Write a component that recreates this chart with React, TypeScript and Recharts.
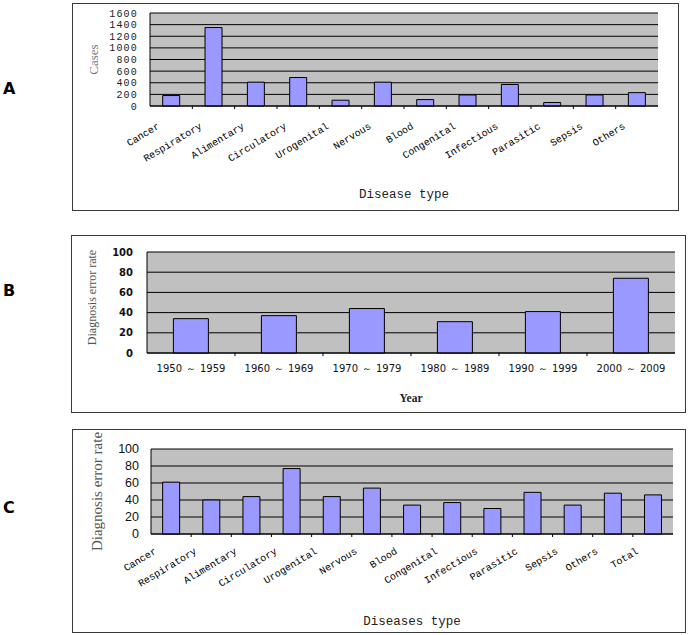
import { BarChart, Bar, XAxis, YAxis, CartesianGrid, Label } from 'recharts';

// ---------------------------------------------------------------------------
// Data
// ---------------------------------------------------------------------------
const CASE_TYPES = [
  'Cancer', 'Respiratory', 'Alimentary', 'Circulatory', 'Urogenital', 'Nervous',
  'Blood', 'Congenital', 'Infectious', 'Parasitic', 'Sepsis', 'Others',
];
const CASE_COUNTS = [180, 1350, 410, 490, 100, 410, 110, 190, 370, 60, 190, 230];
const CASE_TICKS = [0, 200, 400, 600, 800, 1000, 1200, 1400, 1600];

const DECADES = ['1950～1959', '1960～1969', '1970～1979', '1980～1989', '1990～1999', '2000～2009'];
const DECADE_RATES = [34, 37, 44, 31, 41, 74];

const RATE_TYPES = [
  'Cancer', 'Respiratory', 'Alimentary', 'Circulatory', 'Urogenital', 'Nervous',
  'Blood', 'Congenital', 'Infectious', 'Parasitic', 'Sepsis', 'Others', 'Total',
];
const RATE_VALUES = [61, 40, 44, 77, 44, 54, 34, 37, 30, 49, 34, 48, 46];
const RATE_TICKS = [0, 20, 40, 60, 80, 100];

// ---------------------------------------------------------------------------
// Theme
// ---------------------------------------------------------------------------
const BAR_FILL = '#9999ff';
const PLOT_FILL = '#c0c0c0';
const MONO = '"Liberation Mono", "DejaVu Sans Mono", monospace';
const SERIF = '"Liberation Serif", "DejaVu Serif", serif';
const SANS = '"Liberation Sans", Arial, sans-serif';

const toRows = (names: string[], values: number[]) =>
  names.map((name, i) => ({ name, value: values[i] }));

// ---------------------------------------------------------------------------
// Ticks
// ---------------------------------------------------------------------------
function SlantTick(props: any) {
  const { x, y, payload, index, band, count, dx, dy } = props;
  const tx = x + dx;
  const ty = y + dy;
  return (
    <g>
      {index < count - 1 && (
        <line x1={x + band / 2} x2={x + band / 2} y1={y} y2={y + 3} stroke="#000" />
      )}
      <text
        x={tx}
        y={ty}
        textAnchor="end"
        transform={`rotate(-31 ${tx} ${ty})`}
        fontFamily={MONO}
        fontSize={10}
        fill="#000"
      >
        {payload.value}
      </text>
    </g>
  );
}

function DecadeTick(props: any) {
  const { x, y, payload, index, band, count } = props;
  const [from, to] = String(payload.value).split('～');
  return (
    <g>
      {index < count - 1 && (
        <line x1={x + band / 2} x2={x + band / 2} y1={y} y2={y + 3} stroke="#000" />
      )}
      <text x={x} y={y + 19} textAnchor="middle" fontFamily='"DejaVu Sans", sans-serif' fontSize={10} fill="#111">
        <tspan>{from}</tspan>
        <tspan dx={4}>～</tspan>
        <tspan dx={4}>{to}</tspan>
      </text>
    </g>
  );
}

// ---------------------------------------------------------------------------
// Frame + letter
// ---------------------------------------------------------------------------
function Frame({ left, top, width, height }: { left: number; top: number; width: number; height: number }) {
  return (
    <div
      style={{
        position: 'absolute',
        left,
        top,
        width,
        height,
        boxSizing: 'border-box',
        border: '1px solid #3a3a3a',
      }}
    />
  );
}

function PanelLetter({ text, top }: { text: string; top: number }) {
  return (
    <div
      style={{
        position: 'absolute',
        left: 3,
        top,
        fontFamily: '"DejaVu Sans", sans-serif',
        fontWeight: 700,
        fontSize: 16,
        lineHeight: '16px',
        color: '#000',
      }}
    >
      {text}
    </div>
  );
}

// ---------------------------------------------------------------------------
// Panels
// ---------------------------------------------------------------------------
function PanelA() {
  const w = 607, h = 208, yw = 78, mr = 21;
  const band = (w - yw - mr) / CASE_TYPES.length;
  return (
    <div style={{ position: 'absolute', left: 72, top: 3 }}>
      <BarChart width={w} height={h} data={toRows(CASE_TYPES, CASE_COUNTS)} margin={{ top: 10, right: mr, left: 0, bottom: 0 }} barCategoryGap="30%">
        <CartesianGrid vertical={false} stroke="#000" fill={PLOT_FILL} fillOpacity={1} />
        <XAxis
          dataKey="name"
          interval={0}
          height={105}
          tickSize={0}
          tickMargin={0}
          tickLine={false}
          axisLine={{ stroke: '#000' }}
          tick={(p: any) => <SlantTick {...p} band={band} count={CASE_TYPES.length} dx={-11} dy={22} />}
        >
          <Label value="Disease type" position="insideBottom" offset={13} style={{ fontFamily: MONO, fontSize: 12.5, fill: '#222' }} />
        </XAxis>
        <YAxis
          domain={[0, 1600]}
          ticks={CASE_TICKS}
          interval={0}
          width={yw}
          tickSize={0}
          tickMargin={12}
          tickLine={false}
          axisLine={{ stroke: '#000' }}
          tick={{ fill: '#222', fontSize: 10, letterSpacing: 1.2, fontFamily: MONO }}
        >
          <Label value="Cases" angle={-90} position="insideLeft" offset={21} style={{ textAnchor: 'middle', fill: '#777', fontFamily: SERIF, fontSize: 13 }} />
        </YAxis>
        <Bar dataKey="value" fill={BAR_FILL} stroke="#000" strokeWidth={1} isAnimationActive={false} />
      </BarChart>
    </div>
  );
}

function PanelB() {
  const w = 615, h = 178, yw = 76, mr = 11;
  const band = (w - yw - mr) / DECADES.length;
  return (
    <div style={{ position: 'absolute', left: 71, top: 235 }}>
      <BarChart width={w} height={h} data={toRows(DECADES, DECADE_RATES)} margin={{ top: 17, right: mr, left: 0, bottom: 0 }} barCategoryGap="30%">
        <CartesianGrid vertical={false} stroke="#000" fill={PLOT_FILL} fillOpacity={1} />
        <XAxis
          dataKey="name"
          interval={0}
          height={60}
          tickSize={0}
          tickMargin={0}
          tickLine={false}
          axisLine={{ stroke: '#000' }}
          tick={(p: any) => <DecadeTick {...p} band={band} count={DECADES.length} />}
        >
          <Label value="Year" position="insideBottom" offset={11} style={{ fontFamily: SERIF, fontWeight: 700, fontSize: 11.5, fill: '#222' }} />
        </XAxis>
        <YAxis
          domain={[0, 100]}
          ticks={RATE_TICKS}
          interval={0}
          width={yw}
          tickSize={0}
          tickMargin={14}
          tickLine={false}
          axisLine={{ stroke: '#000' }}
          tick={{ fill: '#111', fontSize: 10, fontWeight: 700, fontFamily: '"DejaVu Sans", sans-serif' }}
        >
          <Label value="Diagnosis error rate" angle={-90} position="insideLeft" offset={21} dy={-5} style={{ textAnchor: 'middle', fill: '#555', fontFamily: SERIF, fontSize: 12 }} />
        </YAxis>
        <Bar dataKey="value" fill={BAR_FILL} stroke="#000" strokeWidth={1} isAnimationActive={false} />
      </BarChart>
    </div>
  );
}

function PanelC() {
  const w = 614, h = 204, yw = 79, mr = 13;
  const band = (w - yw - mr) / RATE_TYPES.length;
  return (
    <div style={{ position: 'absolute', left: 72, top: 429 }}>
      <BarChart width={w} height={h} data={toRows(RATE_TYPES, RATE_VALUES)} margin={{ top: 20, right: mr, left: 0, bottom: 0 }} barCategoryGap="29%">
        <CartesianGrid vertical={false} stroke="#000" fill={PLOT_FILL} fillOpacity={1} />
        <XAxis
          dataKey="name"
          interval={0}
          height={99}
          tickSize={0}
          tickMargin={0}
          tickLine={false}
          axisLine={{ stroke: '#000' }}
          tick={(p: any) => <SlantTick {...p} band={band} count={RATE_TYPES.length} dx={-14} dy={19} />}
        >
          <Label value="Diseases type" position="insideBottom" offset={8} style={{ fontFamily: MONO, fontSize: 12.5, fill: '#222' }} />
        </XAxis>
        <YAxis
          domain={[0, 100]}
          ticks={RATE_TICKS}
          interval={0}
          width={yw}
          tickSize={0}
          tickMargin={12}
          tickLine={false}
          axisLine={{ stroke: '#000' }}
          tick={{ fill: '#111', fontSize: 12.5, fontFamily: SANS }}
        >
          <Label value="Diagnosis error rate" angle={-90} position="insideLeft" offset={25} style={{ textAnchor: 'middle', fill: '#555', fontFamily: SERIF, fontSize: 15 }} />
        </YAxis>
        <Bar dataKey="value" fill={BAR_FILL} stroke="#000" strokeWidth={1} isAnimationActive={false} />
      </BarChart>
    </div>
  );
}

// ---------------------------------------------------------------------------
// App
// ---------------------------------------------------------------------------
export default function App() {
  return (
    <div style={{ position: 'absolute', left: 0, top: 0, width: 689, height: 635, background: '#fff', overflow: 'hidden' }}>
      <Frame left={72} top={3} width={607} height={208} />
      <Frame left={71} top={235} width={615} height={178} />
      <Frame left={72} top={429} width={614} height={204} />
      <PanelLetter text="A" top={81} />
      <PanelLetter text="B" top={283} />
      <PanelLetter text="C" top={500} />
      <PanelA />
      <PanelB />
      <PanelC />
    </div>
  );
}
